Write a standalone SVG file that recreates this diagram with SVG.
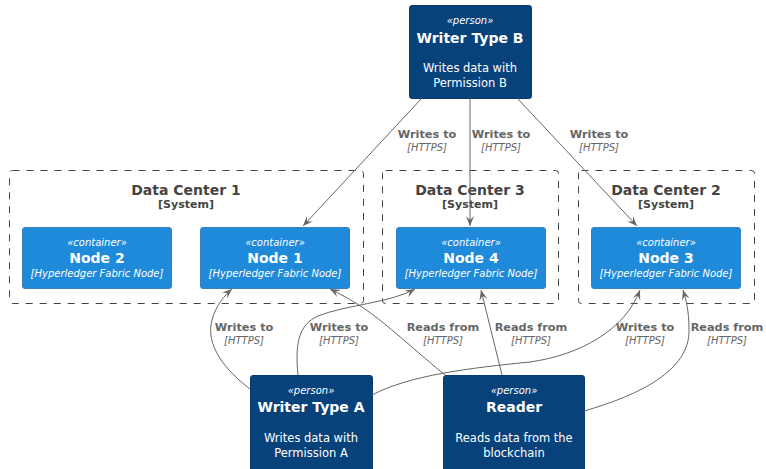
<svg xmlns="http://www.w3.org/2000/svg" width="766" height="469" viewBox="0 0 766 469">
<style>
text{font-family:"DejaVu Sans","Liberation Sans",sans-serif;text-anchor:middle}
.person{fill:#08427B;stroke:#073B6F;stroke-width:1}
.cont{fill:#1E8AD9;stroke:#3C7FC0;stroke-width:1}
.bnd{fill:none;stroke:#444;stroke-width:1;stroke-dasharray:7,7}
.st{font-size:10px;font-style:italic;fill:#fff}
.ti{font-size:14px;font-weight:bold;fill:#fff}
.de{font-size:11.5px;fill:#fff}
.tech{font-size:10px;font-style:italic;fill:#fff}
.bt{font-size:14px;font-weight:bold;fill:#444}
.bs{font-size:11px;font-weight:bold;fill:#444}
.el{font-size:11.3px;font-weight:bold;fill:#666}
.eh{font-size:10px;font-style:italic;fill:#666}
.edge{fill:none;stroke:#666;stroke-width:1;marker-end:url(#arr)}
</style>
<defs>
<marker id="arr" viewBox="0 0 10 8" refX="10" refY="4" markerWidth="10" markerHeight="8" markerUnits="userSpaceOnUse" orient="auto">
<path d="M0,0 L10,4 L0,8 L4,4 z" fill="#666"/>
</marker>
</defs>
<g id="dc1"><rect class="bnd" x="9.5" y="170.5" width="354" height="133" rx="3"/><text class="bt" x="186" y="195">Data Center 1</text><text class="bs" x="186" y="208">[System]</text></g>
<g id="dc3"><rect class="bnd" x="382.5" y="170.5" width="176" height="133" rx="3"/><text class="bt" x="470" y="195">Data Center 3</text><text class="bs" x="470" y="208">[System]</text></g>
<g id="dc2"><rect class="bnd" x="578.5" y="170.5" width="176" height="133" rx="3"/><text class="bt" x="666" y="195">Data Center 2</text><text class="bs" x="666" y="208">[System]</text></g>
<g id="writerB"><rect class="person" x="409.5" y="5.5" width="122" height="93" rx="2.5"/><text class="st" x="470" y="24">«person»</text><text class="ti" x="470" y="43">Writer Type B</text><text class="de" x="470" y="72">Writes data with</text><text class="de" x="470" y="87">Permission B</text></g>
<g id="node2"><rect class="cont" x="22.5" y="227.5" width="149" height="61" rx="2.5"/><text class="st" x="97" y="246">«container»</text><text class="ti" x="97" y="263">Node 2</text><text class="tech" x="97" y="277">[Hyperledger Fabric Node]</text></g>
<g id="node1"><rect class="cont" x="200.5" y="227.5" width="149" height="61" rx="2.5"/><text class="st" x="275" y="246">«container»</text><text class="ti" x="275" y="263">Node 1</text><text class="tech" x="275" y="277">[Hyperledger Fabric Node]</text></g>
<g id="node4"><rect class="cont" x="396.5" y="227.5" width="149" height="61" rx="2.5"/><text class="st" x="471" y="246">«container»</text><text class="ti" x="471" y="263">Node 4</text><text class="tech" x="471" y="277">[Hyperledger Fabric Node]</text></g>
<g id="node3"><rect class="cont" x="591.5" y="227.5" width="149" height="61" rx="2.5"/><text class="st" x="666" y="246">«container»</text><text class="ti" x="666" y="263">Node 3</text><text class="tech" x="666" y="277">[Hyperledger Fabric Node]</text></g>
<g id="writerA"><rect class="person" x="250.5" y="375.5" width="122" height="96" rx="2.5"/><text class="st" x="311" y="394">«person»</text><text class="ti" x="311" y="412">Writer Type A</text><text class="de" x="311" y="442">Writes data with</text><text class="de" x="311" y="457">Permission A</text></g>
<g id="reader"><rect class="person" x="443.5" y="375.5" width="141" height="96" rx="2.5"/><text class="st" x="514" y="394">«person»</text><text class="ti" x="514" y="412">Reader</text><text class="de" x="514" y="442">Reads data from the</text><text class="de" x="514" y="457">blockchain</text></g>
<g id="connectors">
<path class="edge" d="M422,98 L303,226"/>
<path class="edge" d="M470,98 L470,226"/>
<path class="edge" d="M517,98 L637,226"/>
<path class="edge" d="M250,389 C225,370 205,345 212,320 C216,305 225,295 232,289"/>
<path class="edge" d="M298,375 C295,345 298,325 318,316 C345,305 390,303 415,289"/>
<path class="edge" d="M372,395 C410,375 470,368 530,362 C580,355 625,330 640,290"/>
<path class="edge" d="M445,375 C420,355 385,322 362,307 C348,298 340,294 330,289"/>
<path class="edge" d="M502,375 L481,290"/>
<path class="edge" d="M584,411 C640,395 690,370 689,330 C689,310 686,300 683,290"/>
<text class="el" x="427" y="138">Writes to</text><text class="eh" x="427" y="151">[HTTPS]</text>
<text class="el" x="501" y="138">Writes to</text><text class="eh" x="501" y="151">[HTTPS]</text>
<text class="el" x="599" y="138">Writes to</text><text class="eh" x="599" y="151">[HTTPS]</text>
<text class="el" x="244" y="331">Writes to</text><text class="eh" x="244" y="344">[HTTPS]</text>
<text class="el" x="339" y="331">Writes to</text><text class="eh" x="339" y="344">[HTTPS]</text>
<text class="el" x="443" y="331">Reads from</text><text class="eh" x="443" y="344">[HTTPS]</text>
<text class="el" x="531" y="331">Reads from</text><text class="eh" x="531" y="344">[HTTPS]</text>
<text class="el" x="645" y="331">Writes to</text><text class="eh" x="645" y="344">[HTTPS]</text>
<text class="el" x="727" y="331">Reads from</text><text class="eh" x="727" y="344">[HTTPS]</text>
</g>
</svg>
